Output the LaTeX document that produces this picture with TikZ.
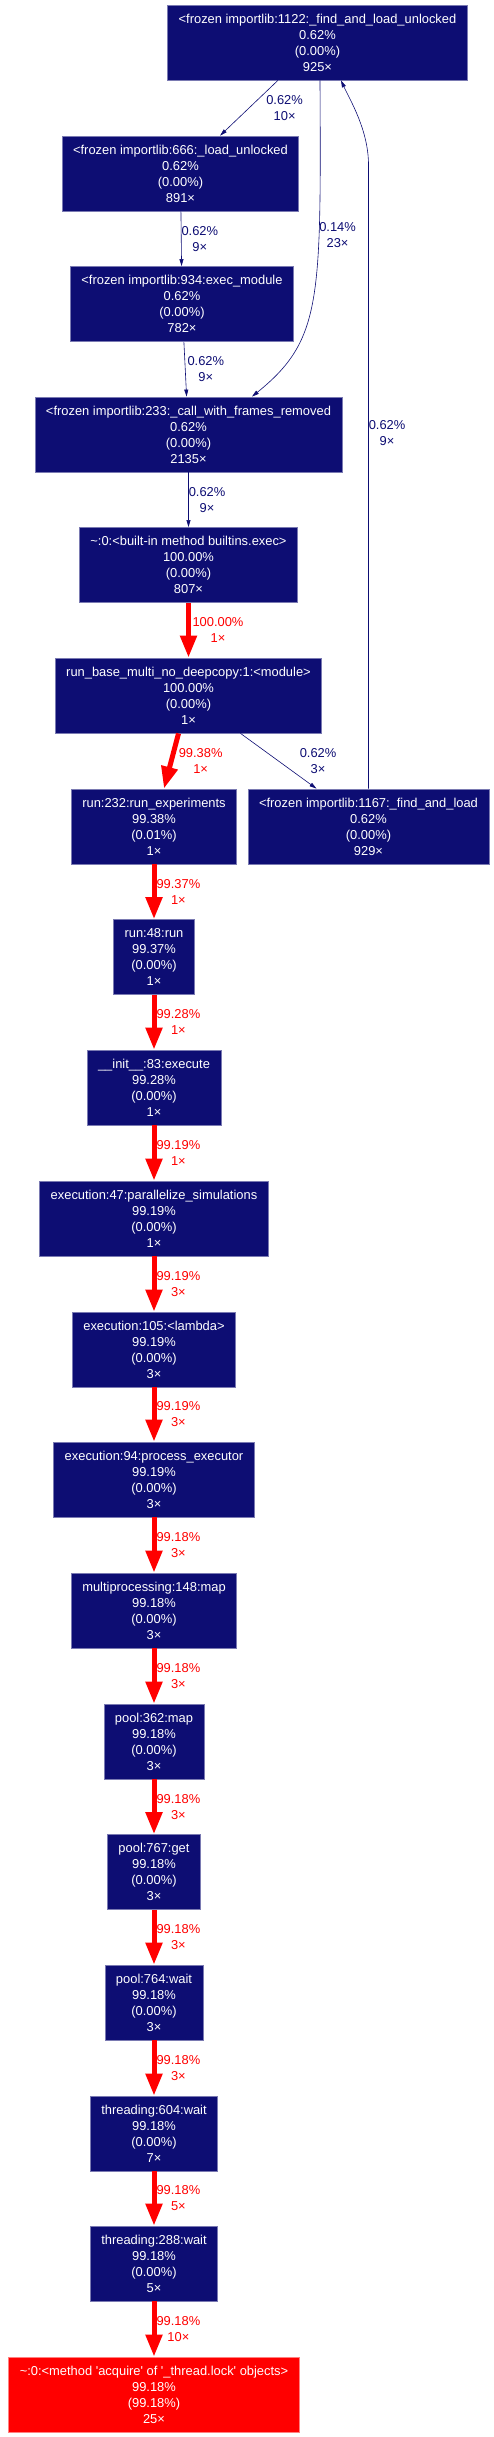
\documentclass[tikz,border=0pt]{standalone}
\usepackage{fontspec}
\setmainfont{Liberation Sans}
\usetikzlibrary{arrows.meta}
\usetikzlibrary{positioning}
\definecolor{callnavy}{HTML}{0D0D73}
\definecolor{callred}{HTML}{FF0000}

\begin{document}
\begin{tikzpicture}[x=1pt,y=-1pt,
fn/.style={rectangle,draw=callnavy!55!white,line width=0.8pt,fill=callnavy,text=white,align=center,minimum height=75pt,inner xsep=11pt,inner ysep=0pt,font=\fontsize{12.9}{16}\selectfont},
hotfn/.style={fn,draw=callred!50!white,fill=callred},
cold/.style={draw=callnavy,line width=0.6pt,-{Triangle[width=4pt,length=7pt]}},
hot/.style={draw=callred,line width=5pt,-{Triangle[width=16pt,length=22pt]}},
coldlbl/.style={text=callnavy,align=center,inner sep=0pt,anchor=west,font=\fontsize{12.9}{16}\selectfont},
hotlbl/.style={coldlbl,text=callred}]
\useasboundingbox (0,0) rectangle (494,2437);
\node[fn] (findloadunl) at (317.5,42.5) {<frozen importlib:1122:\_find\_and\_load\_unlocked\\0.62\%\\(0.00\%)\\925×};
\node[fn] (loadunl) at (180.5,173.5) {<frozen importlib:666:\_load\_unlocked\\0.62\%\\(0.00\%)\\891×};
\node[fn] (execmod) at (182,304) {<frozen importlib:934:exec\_module\\0.62\%\\(0.00\%)\\782×};
\node[fn] (callframes) at (188.5,434.5) {<frozen importlib:233:\_call\_with\_frames\_removed\\0.62\%\\(0.00\%)\\2135×};
\node[fn] (bexec) at (188.5,565) {\textasciitilde:0:<built-in method builtins.exec>\\100.00\%\\(0.00\%)\\807×};
\node[fn] (modmain) at (188.5,695.5) {run\_base\_multi\_no\_deepcopy:1:<module>\\100.00\%\\(0.00\%)\\1×};
\node[fn] (runexp) at (154,826.5) {run:232:run\_experiments\\99.38\%\\(0.01\%)\\1×};
\node[fn] (findload) at (368.5,826.5) {<frozen importlib:1167:\_find\_and\_load\\0.62\%\\(0.00\%)\\929×};
\node[fn] (runrun) at (154,957) {run:48:run\\99.37\%\\(0.00\%)\\1×};
\node[fn] (initexec) at (154,1087.5) {\_\_init\_\_:83:execute\\99.28\%\\(0.00\%)\\1×};
\node[fn] (parsim) at (154,1218.5) {execution:47:parallelize\_simulations\\99.19\%\\(0.00\%)\\1×};
\node[fn] (lambda) at (154,1349.5) {execution:105:<lambda>\\99.19\%\\(0.00\%)\\3×};
\node[fn] (procexec) at (154,1479.5) {execution:94:process\_executor\\99.19\%\\(0.00\%)\\3×};
\node[fn] (mpmap) at (154,1610.5) {multiprocessing:148:map\\99.18\%\\(0.00\%)\\3×};
\node[fn] (poolmap) at (154,1741.5) {pool:362:map\\99.18\%\\(0.00\%)\\3×};
\node[fn] (poolget) at (154,1872) {pool:767:get\\99.18\%\\(0.00\%)\\3×};
\node[fn] (poolwait) at (154,2002.5) {pool:764:wait\\99.18\%\\(0.00\%)\\3×};
\node[fn] (thwait) at (154,2133.5) {threading:604:wait\\99.18\%\\(0.00\%)\\7×};
\node[fn] (thcond) at (154,2263.5) {threading:288:wait\\99.18\%\\(0.00\%)\\5×};
\node[hotfn] (acquire) at (154,2394.5) {\textasciitilde:0:<method \textquotesingle acquire\textquotesingle{} of \textquotesingle\_thread.lock\textquotesingle{} objects>\\99.18\%\\(99.18\%)\\25×};

\draw[cold] (findloadunl) -- (loadunl) node[coldlbl,midway,xshift=17] {0.62\%\\10×};
\draw[cold] ([xshift=2.5]findloadunl.south) .. controls (321,300) and (322,340) .. ([xshift=63.5]callframes.north) node[coldlbl,pos=0.3] {0.14\%\\23×};
\draw[cold] (loadunl) -- (execmod) node[coldlbl,midway] {0.62\%\\9×};
\draw[cold] (execmod) -- (callframes) node[coldlbl,midway,xshift=2] {0.62\%\\9×};
\draw[cold] (callframes) -- (bexec) node[coldlbl,midway] {0.62\%\\9×};
\draw[hot] (bexec) -- (modmain) node[hotlbl,midway,xshift=1.5] {100.00\%\\1×};
\draw[hot] (modmain) -- (runexp) node[hotlbl,midway,xshift=5] {99.38\%\\1×};
\draw[cold] (modmain) -- (findload) node[coldlbl,midway,xshift=21] {0.62\%\\3×};
\draw[cold] (findload.north) -- node[coldlbl,pos=0.57] {0.62\%\\9×} (368.5,165) .. controls (368.5,130) and (350,100) .. ([xshift=23.5]findloadunl.south);
\draw[hot] (runexp) -- (runrun) node[hotlbl,midway] {99.37\%\\1×};
\draw[hot] (runrun) -- (initexec) node[hotlbl,midway] {99.28\%\\1×};
\draw[hot] (initexec) -- (parsim) node[hotlbl,midway] {99.19\%\\1×};
\draw[hot] (parsim) -- (lambda) node[hotlbl,midway] {99.19\%\\3×};
\draw[hot] (lambda) -- (procexec) node[hotlbl,midway] {99.19\%\\3×};
\draw[hot] (procexec) -- (mpmap) node[hotlbl,midway] {99.18\%\\3×};
\draw[hot] (mpmap) -- (poolmap) node[hotlbl,midway] {99.18\%\\3×};
\draw[hot] (poolmap) -- (poolget) node[hotlbl,midway] {99.18\%\\3×};
\draw[hot] (poolget) -- (poolwait) node[hotlbl,midway] {99.18\%\\3×};
\draw[hot] (poolwait) -- (thwait) node[hotlbl,midway] {99.18\%\\3×};
\draw[hot] (thwait) -- (thcond) node[hotlbl,midway] {99.18\%\\5×};
\draw[hot] (thcond) -- (acquire) node[hotlbl,midway] {99.18\%\\10×};
\end{tikzpicture}
\end{document}
